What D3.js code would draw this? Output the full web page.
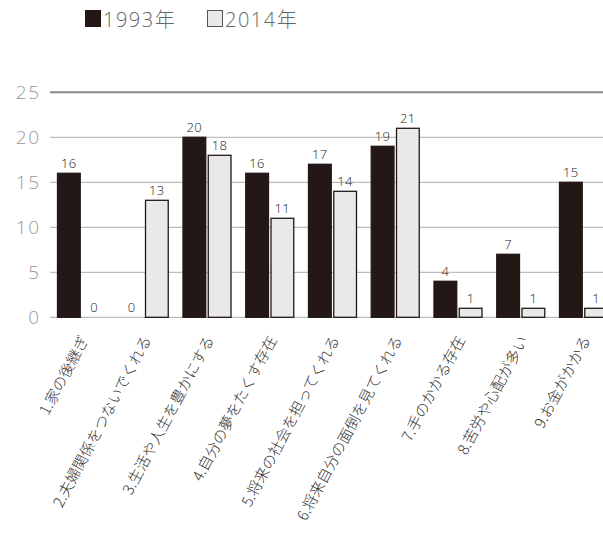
<!DOCTYPE html>
<html><head><meta charset="utf-8">
<script src="https://cdn.jsdelivr.net/npm/d3@7/dist/d3.min.js"></script>
<style>
body{margin:0;background:#fff;}
svg{display:block;}
</style></head>
<body>
<svg id="chart" width="603" height="535"></svg>
<script>
const categories = ["1.家の後継ぎ","2.夫婦関係をつないでくれる","3.生活や人生を豊かにする","4.自分の夢をたくす存在","5.将来の社会を担ってくれる","6.将来自分の面倒を見てくれる","7.手のかかる存在","8.苦労や心配が多い","9.お金がかかる"];
const seriesNames = ["1993年","2014年"];
const values1993 = [16,0,20,16,17,19,4,7,15];
const values2014 = [0,13,18,11,14,21,1,1,1];
const yTicks = [0,5,10,15,20,25];

const svg = d3.select("#chart");
const colors = ["#231815","#e8e9e8"];
const strokes = ["#231815","#231815"];

const y = d3.scaleLinear().domain([0,25]).range([317.3,92.3]);
const x0 = d3.scaleBand().domain(categories).range([50, 50+9*62.75]).padding(0);
const x1 = d3.scaleBand().domain(seriesNames).range([7,56]).paddingInner(0.06);

// gridlines
svg.append("g").selectAll("line").data(yTicks).join("line")
  .attr("x1",50).attr("x2",603)
  .attr("y1",d=>y(d)).attr("y2",d=>y(d))
  .attr("stroke",d=>d===25?"#8a8a8a":"#bdbdbd")
  .attr("stroke-width",d=>d===25?2:1.2);

// tick labels
svg.append("g").selectAll("text").data(yTicks).join("text")
  .attr("x",41).attr("y",d=>y(d)).attr("dy","0.36em")
  .attr("text-anchor","end")
  .attr("font-family","'Open Sans','Liberation Sans',sans-serif")
  .attr("font-weight",300)
  .attr("font-size",19).attr("letter-spacing","1.8px")
  .attr("fill","#999")
  .text(d=>d);

const data = categories.map((c,i)=>({cat:c, vals:[values1993[i],values2014[i]]}));

const groups = svg.append("g").selectAll("g").data(data).join("g")
  .attr("transform",d=>`translate(${x0(d.cat)},0)`);

groups.selectAll("rect").data(d=>d.vals.map((v,j)=>({v,j}))).join("rect")
  .attr("x",d=>x1(seriesNames[d.j])+0.5)
  .attr("y",d=>y(d.v))
  .attr("width",x1.bandwidth()-1)
  .attr("height",d=>y(0)-y(d.v))
  .attr("fill",d=>colors[d.j])
  .attr("stroke",d=>d.v===0&&d.j===1?"#aaa":strokes[d.j])
  .attr("stroke-width",1.3);

groups.selectAll("text.val").data(d=>d.vals.map((v,j)=>({v,j}))).join("text")
  .attr("class","val")
  .attr("x",d=>x1(seriesNames[d.j])+x1.bandwidth()/2)
  .attr("y",d=>y(d.v)-5)
  .attr("text-anchor","middle")
  .attr("font-family","'Open Sans','Liberation Sans',sans-serif")
  .attr("font-weight",300)
  .attr("font-size",13).attr("letter-spacing","0.5px")
  .attr("fill","#222")
  .text(d=>d.v);

// x labels
svg.append("g").selectAll("text").data(categories).join("text")
  .attr("transform",d=>`translate(${x0(d)+x0.bandwidth()/2+3},337) rotate(-62)`)
  .attr("dy","0.35em")
  .attr("text-anchor","end")
  .attr("font-family","'Noto Sans CJK JP',sans-serif")
  .attr("font-weight",300)
  .attr("font-size",15)
  .attr("fill","#333")
  .text(d=>d);

// legend
const legend = svg.append("g");
const legX = [85,207];
seriesNames.forEach((s,i)=>{
  legend.append("rect").attr("x",legX[i]+0.5).attr("y",10.5).attr("width",15).attr("height",16)
    .attr("fill",colors[i]).attr("stroke",i===1?"#555":colors[i]).attr("stroke-width",1);
  legend.append("text").attr("x",legX[i]+18).attr("y",27)
    .attr("font-family","'Open Sans','Noto Sans CJK JP',sans-serif")
    .attr("font-weight",300)
    .attr("font-size",20).attr("letter-spacing","1.5px").attr("fill","#666")
    .text(s);
});
</script>
</body></html>
